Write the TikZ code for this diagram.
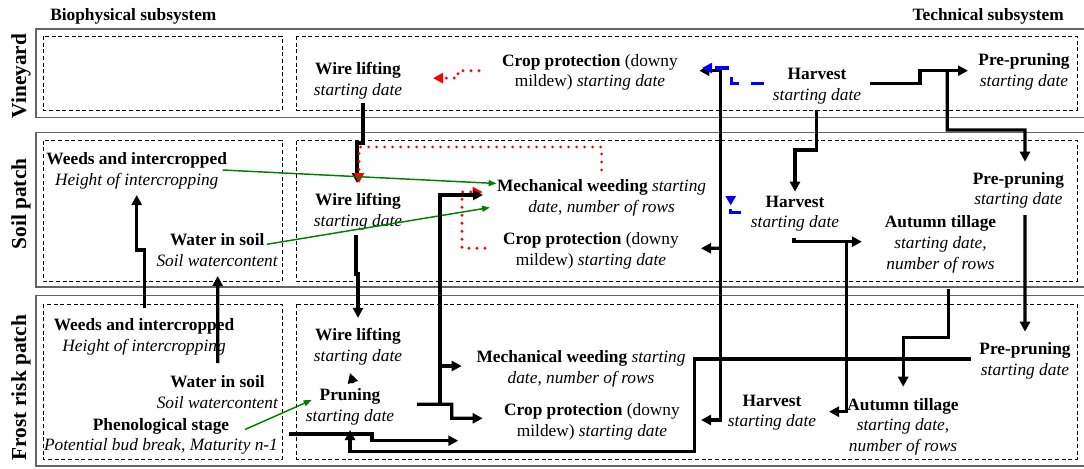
\documentclass[tikz,border=0pt]{standalone}
\usepackage{fontspec}
\setmainfont{Liberation Serif}
\usetikzlibrary{arrows.meta,calc}
\definecolor{weedgreen}{RGB}{0,128,0}
\definecolor{rowgray}{RGB}{100,100,100}
\tikzset{
    var/.style={
        align=center,
        inner sep=0pt,
        font=\fontsize{13}{15.5}\selectfont
    },
    header/.style={
        inner sep=0pt,
        font=\fontsize{13}{15.5}\selectfont\bfseries
    },
    level/.style={
        rotate=90,
        inner sep=0pt,
        font=\fontsize{16}{19}\selectfont\bfseries
    },
    levelbox/.style={
        draw=rowgray,
        line width=1.4pt
    },
    panel/.style={
        draw,
        line width=0.6pt,
        dash pattern=on 3pt off 2pt
    },
    flow/.style={
        line width=2.4pt,
        -{Triangle[length=7.5pt,width=7.5pt]}
    },
    flowboth/.style={
        line width=2.4pt,
        {Triangle[length=7.5pt,width=7.5pt]}-{Triangle[length=7.5pt,width=7.5pt]}
    },
    dotflow/.style={
        red,
        line width=2.4pt,
        line cap=round,
        dash pattern=on 0pt off 6pt,
        -{Triangle[length=7.5pt,width=7.5pt]}
    },
    dashflow/.style={
        blue,
        line width=2.4pt,
        dash pattern=on 10pt off 9pt,
        -{Triangle[length=7.5pt,width=7.5pt]}
    },
    bioflow/.style={
        weedgreen,
        line width=1.1pt,
        -{Triangle[length=6pt,width=4.5pt]}
    }
}

\begin{document}
\begin{tikzpicture}[x=0.75pt,y=-0.75pt]
\useasboundingbox (0,0) rectangle (1084,468);
\draw[levelbox] (1084,29) -| (36,117.5) -- (1084,117.5);
\draw[levelbox] (1084,132.5) -| (36,287) -- (1084,287);
\draw[levelbox] (1084,295.5) -| (36,466) -- (1084,466);
\draw[panel] (43,36) rectangle (282,110);
\draw[panel] (296.5,36) rectangle (1077,110);
\draw[panel] (43,140.5) rectangle (282,281);
\draw[panel] (296.5,140.5) rectangle (1077,281);
\draw[panel] (43,304) rectangle (282,459);
\draw[panel] (296.5,304) rectangle (1077,459);

\node[header,anchor=base west] (bio) at (50,20.5) {Biophysical subsystem};
\node[header,anchor=base east] (tech) at (1064,20.5) {Technical subsystem};
\node[level] (vine) at (21,76) {Vineyard};
\node[level] (soil) at (21,204) {Soil patch};
\node[level] (frost) at (21,387.5) {Frost risk patch};

\node[var] (wlV) at (358,80.7) {\textbf{Wire lifting}\\\textit{starting date}};
\node[var] (cpV) at (590,72.3) {\textbf{Crop protection} (downy\\mildew) \textit{starting date}};
\node[var] (hvV) at (817,86.3) {\textbf{Harvest}\\\textit{starting date}};
\node[var] (ppV) at (1024,71.8) {\textbf{Pre-pruning}\\\textit{starting date}};

\node[var] (wiS) at (136.7,171) {\textbf{Weeds and intercropped}\\\textit{Height of intercropping}};
\node[var] (wsS) at (217.3,250.3) {\textbf{Water in soil}\\\textit{Soil watercontent}};
\node[var] (wlS) at (358,211.5) {\textbf{Wire lifting}\\\textit{starting date}};
\node[var] (mwS) at (601.6,197.5) {\textbf{Mechanical weeding} \textit{starting}\\\textit{date, number of rows}};
\node[var] (cpS) at (591,250.5) {\textbf{Crop protection} (downy\\mildew) \textit{starting date}};
\node[var] (hvS) at (795,213.7) {\textbf{Harvest}\\\textit{starting date}};
\node[var] (ppS) at (1018.4,190.2) {\textbf{Pre-pruning}\\\textit{starting date}};
\node[var] (atS) at (940.5,244.4) {\textbf{Autumn tillage}\\\textit{starting date,}\\\textit{number of rows}};

\node[var] (wiF) at (144,336.9) {\textbf{Weeds and intercropped}\\\textit{Height of intercropping}};
\node[var] (wsF) at (217.5,392.2) {\textbf{Water in soil}\\\textit{Soil watercontent}};
\node[var] (psF) at (161,436.5) {\textbf{Phenological stage}\\\textit{Potential bud break, Maturity n-1}};
\node[var] (wlF) at (358,346.9) {\textbf{Wire lifting}\\\textit{starting date}};
\node[var] (prF) at (350,407) {\textbf{Pruning}\\\textit{starting date}};
\node[var] (mwF) at (581,368.5) {\textbf{Mechanical weeding} \textit{starting}\\\textit{date, number of rows}};
\node[var] (cpF) at (592,421.7) {\textbf{Crop protection} (downy\\mildew) \textit{starting date}};
\node[var] (hvF) at (772,412.7) {\textbf{Harvest}\\\textit{starting date}};
\node[var] (atF) at (903,426.5) {\textbf{Autumn tillage}\\\textit{starting date,}\\\textit{number of rows}};
\node[var] (ppF) at (1025,361) {\textbf{Pre-pruning}\\\textit{starting date}};

\coordinate (prJ) at (440,404.3);
\coordinate (mwJ) at (440,366);
\coordinate (cpJ) at (720.7,248.3);
\coordinate (hvJ) at (846.2,241.7);
\coordinate (ppJ) at (947.3,70.7);
\coordinate (blueEnd) at (730.7,196);

\draw[flow] ($(wlV)+(5,22.3)$) |- (357,143) -- ($(wlS)+(-1,-28.5)$);
\draw[flow] ($(wlS)+(-2,23.5)$) |- (358,274) -- ($(wlF)+(0,-29)$);
\draw[dotflow] ($(mwS)+(0,-27.5)$) |- (359,147) -- ($(wlS)+(1,-28.5)$);
\draw[dotflow] ($(cpS)+(-106,-2.2)$) -| (462,192) -- ($(mwS)+(-119,-5.5)$);
\draw[dotflow] ($(cpV)+(-111,-1.6)$) -| (458,78) -- ($(wlV)+(75,-2.5)$);
\draw[bioflow] ($(wiS)+(86,-1)$) -- ($(mwS)+(-105,-14)$);
\draw[bioflow] ($(wsS)+(49.5,-6)$) -- ($(mwS)+(-111.6,10)$);
\draw[bioflow] ($(psF)+(84,-7)$) -- ($(prF)+(-38.3,-7)$);
\draw[flow] ($(wiF)+(0.3,-28.6)$) |- (136.7,250) -- ($(wiS)+(0,24)$);
\draw[flow] ($(wsF)+(0.2,-29)$) -- ($(wsS)+(0.4,25.7)$);
\draw[flow] ($(prF)+(3,-24)$) -- ($(wlF)+(-8,26)$);
\draw[flow] ($(prF)+(67,-2.7)$) -| (451.7,418.3) -- ($(cpF)+(-109.3,-3.4)$);
\draw[flow] (prJ) |- ($(mwS)+(-118.6,-2.5)$);
\draw[flow] (mwJ) -- ($(mwF)+(-119.3,-2.5)$);
\draw[flow] ($(psF)+(127.6,-2.5)$) -| (372,440.7) -- ($(cpF)+(-133.7,19)$);
\draw[flow] ($(ppF)+(-54.4,-2)$) -| (694.5,451.7) -| ($(prF)+(0,23)$);
\draw[flowboth] ($(cpF)+(109,-1.7)$) -| (720.7,70.7) -- ($(cpV)+(109.3,-1.6)$);
\draw[flow] (cpJ) -- ($(cpS)+(110,-2.2)$);
\draw[dashflow] ($(hvV)+(-53,-3)$) -| (731.7,68) -- ($(cpV)+(112,-4.3)$);
\draw[dashflow,-{Triangle[reversed,length=7pt,width=7.5pt]}] ($(hvS)+(-54.3,-1)$) -| (blueEnd);
\draw[flow] ($(hvV)+(-0.3,23.2)$) |- (795,150) -- ($(hvS)+(0,-22)$);
\draw[flow] ($(hvS)+(-1,24.3)$) |- ($(atS)+(-78.6,-2.7)$);
\draw[flow] (hvJ) |- ($(hvF)+(57,-1)$);
\draw[flow] ($(atS)+(7.7,44.6)$) |- (903.2,337.3) -- ($(atF)+(0.2,-39.8)$);
\draw[flow] ($(hvV)+(53,-3)$) -| (920,70.7) -- ($(ppV)+(-56,-1.1)$);
\draw[flow] (ppJ) |- (1025,130) -- ($(ppS)+(6.6,-28.5)$);
\draw[flow] ($(ppS)+(6.6,24.8)$) -- ($(ppF)+(0,-29.3)$);
\end{tikzpicture}
\end{document}
